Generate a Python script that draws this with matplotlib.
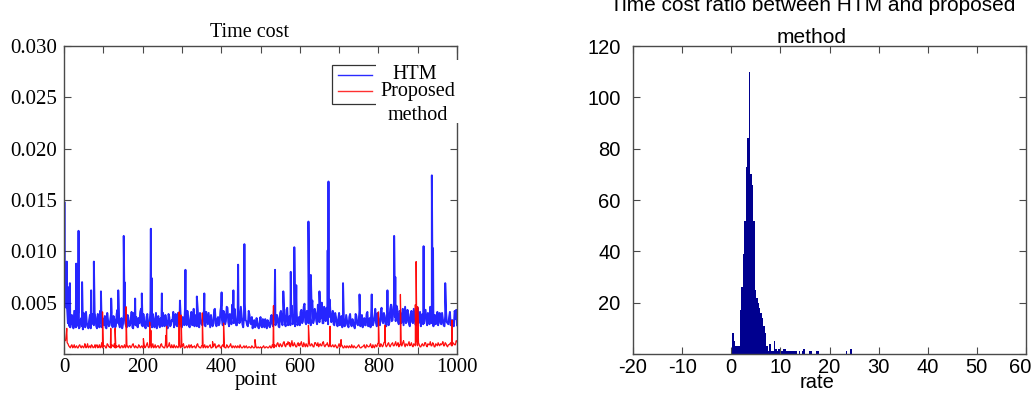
import numpy as np
import matplotlib
matplotlib.use("Agg")
import matplotlib.pyplot as plt
from matplotlib.patches import Rectangle
from matplotlib.lines import Line2D
from matplotlib.transforms import ScaledTranslation

plt.rcParams["axes.unicode_minus"] = False

# ---------------- data (time values in units of 1e-3 s) ----------------
point_step = 4      # samples at points 0, 4, 8, ...
mid_offset = 2      # samples at points 2, 6, 10, ...
htm_base = [
    4.6, 4.9, 4.4, 3.2, 2.6, 3.8, 2.5, 3.4, 2.7, 4.0,
    2.6, 3.5, 2.4, 3.1, 4.1, 2.7, 3.3, 2.5, 3.9, 2.8,
    3.6, 2.5, 3.2, 4.2, 2.6, 3.0, 3.7, 2.5, 3.3, 2.8,
    4.0, 2.6, 3.4, 2.7, 4.3, 2.9, 3.1, 2.5, 3.8, 3.0,
    2.6, 3.5, 2.8, 4.1, 2.5, 3.2, 3.6, 2.6, 3.0, 4.4,
    2.7, 3.3, 2.5, 3.9, 2.8, 4.2, 2.6, 3.4, 3.0, 2.5,
    3.7, 2.6, 3.1, 4.0, 2.7, 3.3, 2.5, 3.6, 2.8, 3.2,
    2.6, 3.9, 2.7, 3.4, 4.3, 2.6, 3.1, 4.6, 2.8, 3.5,
    2.6, 4.1, 3.0, 2.7, 3.8, 4.5, 2.6, 3.3, 2.8, 4.2,
    2.7, 3.5, 4.0, 2.6, 3.2, 2.9, 4.4, 2.7, 3.6, 3.0,
    4.7, 2.8, 3.9, 3.2, 4.5, 2.7, 3.6, 4.8, 3.0, 3.4,
    2.8, 4.4, 3.1, 3.7, 2.6, 4.9, 3.2, 2.7, 3.8, 2.9,
    2.5, 3.3, 2.7, 3.0, 2.5, 3.6, 2.6, 2.9, 3.4, 2.5,
    3.1, 2.6, 3.8, 2.7, 4.6, 3.0, 3.5, 2.6, 4.2, 2.8,
    3.9, 2.7, 4.5, 3.1, 2.8, 4.7, 3.3, 2.7, 4.1, 3.0,
    2.8, 4.3, 3.2, 4.9, 2.9, 3.6, 4.4, 2.8, 5.2, 3.3,
    4.0, 2.9, 4.6, 3.4, 5.0, 3.0, 3.8, 4.5, 2.9, 5.3,
    3.1, 4.2, 2.8, 3.6, 2.7, 4.0, 3.2, 2.6, 3.5, 2.8,
    3.3, 2.6, 3.9, 2.7, 3.1, 2.5, 3.7, 2.8, 4.3, 3.0,
    2.6, 3.5, 2.8, 4.1, 3.0, 2.6, 3.8, 3.1, 4.4, 2.7,
    3.4, 2.8, 4.5, 3.0, 3.7, 2.7, 4.2, 3.1, 4.8, 3.3,
    5.0, 3.2, 4.4, 2.9, 4.0, 3.5, 2.8, 4.6, 3.1, 3.8,
    2.7, 4.2, 3.0, 3.6, 2.8, 4.5, 3.3, 2.7, 3.9, 3.0,
    4.3, 2.8, 3.5, 4.6, 3.0, 2.7, 3.8, 3.2, 2.8, 4.0,
    2.9, 3.4, 2.7, 4.2, 3.0, 3.6, 2.8, 3.3, 2.7, 3.9,
    2.8,
]
htm_mid = [
    4.8, 4.5, 3.0, 2.7, 3.5, 2.9, 4.2, 2.6, 3.6, 2.5,
    3.3, 2.7, 4.0, 2.6, 3.0, 2.5, 3.8, 2.9, 3.2, 4.0,
    2.7, 3.9, 2.6, 3.0, 3.5, 2.8, 2.6, 4.0, 2.7, 3.4,
    2.8, 3.7, 2.6, 3.9, 3.0, 2.6, 3.5, 2.9, 4.1, 2.7,
    3.8, 2.7, 3.3, 2.6, 4.0, 2.8, 2.7, 3.5, 4.1, 2.8,
    3.9, 2.6, 3.6, 2.7, 3.2, 2.8, 3.9, 2.6, 4.0, 3.3,
    2.8, 3.5, 2.7, 2.9, 3.8, 2.6, 3.9, 2.7, 3.3, 4.1,
    3.2, 2.8, 4.0, 2.9, 2.7, 3.6, 2.8, 3.2, 4.2, 2.7,
    3.6, 2.8, 4.4, 3.1, 2.7, 3.2, 4.0, 2.9, 3.7, 2.8,
    4.1, 2.9, 3.3, 3.8, 2.7, 4.3, 3.0, 3.4, 2.8, 4.2,
    3.3, 4.2, 2.9, 4.6, 3.1, 3.9, 2.9, 3.5, 4.4, 2.8,
    4.1, 3.0, 4.6, 2.9, 3.6, 3.3, 2.8, 4.2, 3.0, 3.6,
    3.0, 2.6, 3.5, 2.6, 3.2, 2.7, 3.4, 2.6, 3.0, 3.3,
    2.7, 3.5, 2.9, 4.2, 2.8, 3.8, 2.7, 4.0, 3.1, 4.4,
    3.0, 4.3, 2.8, 3.7, 4.4, 2.9, 3.9, 4.6, 2.8, 3.6,
    4.1, 3.0, 4.6, 3.1, 4.2, 3.0, 3.5, 4.7, 3.0, 4.4,
    3.2, 4.8, 3.1, 4.3, 3.0, 4.6, 3.2, 4.1, 3.6, 4.0,
    3.6, 2.9, 4.0, 3.0, 3.4, 2.8, 3.7, 3.0, 2.7, 3.8,
    2.8, 3.6, 2.9, 3.4, 2.7, 3.9, 2.9, 3.3, 2.7, 3.8,
    3.2, 2.8, 3.9, 2.7, 3.5, 4.2, 2.8, 3.6, 3.0, 4.0,
    2.9, 4.1, 3.2, 4.0, 2.9, 3.9, 2.8, 4.4, 3.2, 4.6,
    3.6, 4.7, 3.1, 4.2, 3.0, 4.4, 3.7, 3.0, 4.3, 2.9,
    3.9, 3.1, 4.4, 2.9, 3.8, 3.0, 4.1, 3.5, 2.9, 4.3,
    3.2, 4.0, 2.9, 3.4, 4.2, 3.5, 2.9, 4.1, 3.6, 3.0,
    4.0, 2.8, 3.7, 3.1, 2.9, 4.1, 3.2, 2.8, 4.2, 3.4,
]
htm_spike_x = [1, 7, 11, 15, 31, 37, 46, 69, 76, 94, 120, 138, 152, 154, 181,
               198, 221, 223, 249, 295, 309, 338, 357, 401, 431, 443, 459, 537,
               558, 577, 586, 591, 622, 628, 650, 671, 673, 710, 752, 783, 823,
               840, 843, 915, 936, 939, 970, 998]
htm_spike_val = [14.8, 9.0, 6.5, 6.9, 8.8, 12.0, 7.0, 6.2, 9.0, 6.1, 5.4, 6.2,
                 11.5, 7.0, 5.4, 5.9, 12.2, 7.4, 5.9, 5.2, 8.2, 5.6, 5.9, 6.0,
                 6.2, 8.7, 10.7, 8.2, 6.1, 8.0, 10.4, 6.7, 12.9, 7.7, 6.1, 10.1,
                 16.8, 6.9, 5.8, 5.8, 6.2, 11.5, 7.5, 10.5, 17.4, 10.3, 6.9, 4.3]

prop_base = [
    1.4, 1.3, 1.1, 0.8, 0.6, 0.9, 0.7, 0.6, 0.8, 0.6,
    0.9, 0.6, 0.7, 0.8, 0.6, 1.0, 0.7, 0.6, 0.8, 0.7,
    0.6, 0.9, 0.7, 0.6, 1.1, 0.7, 0.8, 0.6, 0.9, 0.7,
    0.6, 0.8, 1.0, 0.6, 0.7, 0.9, 0.6, 0.8, 0.7, 0.6,
    0.9, 0.6, 0.8, 0.7, 1.0, 0.6, 0.7, 0.6, 0.8, 0.7,
    0.6, 0.9, 0.7, 1.1, 0.6, 0.8, 0.7, 0.6, 0.9, 0.7,
    0.8, 0.6, 1.0, 0.7, 0.6, 0.8, 0.7, 1.1, 0.6, 0.7,
    0.9, 0.6, 0.7, 0.8, 0.6, 0.7, 1.0, 0.6, 0.8, 0.7,
    0.6, 0.9, 0.7, 0.8, 0.6, 1.0, 0.7, 0.6, 0.8, 0.7,
    0.6, 0.8, 0.7, 0.9, 0.6, 0.7, 1.0, 0.6, 0.7, 0.8,
    0.6, 0.9, 0.7, 0.6, 0.8, 0.7, 1.0, 0.6, 0.7, 0.8,
    0.6, 0.7, 0.9, 0.6, 0.7, 0.6, 0.8, 0.6, 0.7, 0.6,
    0.7, 0.6, 0.8, 0.6, 0.6, 0.7, 0.6, 0.8, 0.6, 0.7,
    0.6, 0.8, 0.6, 0.7, 0.9, 0.7, 1.1, 0.7, 0.9, 0.8,
    1.2, 0.7, 0.9, 1.0, 0.7, 1.3, 0.8, 0.9, 0.7, 1.1,
    0.8, 1.2, 0.7, 0.9, 1.0, 0.7, 1.2, 0.8, 0.9, 0.7,
    1.1, 0.8, 0.7, 1.0, 0.8, 1.2, 0.7, 0.9, 0.8, 1.0,
    0.7, 0.9, 0.7, 0.8, 0.6, 1.0, 0.7, 0.8, 0.6, 0.7,
    0.8, 0.6, 0.7, 0.9, 0.6, 0.7, 0.6, 0.8, 0.7, 0.6,
    0.7, 0.9, 0.6, 0.8, 0.7, 1.0, 0.6, 0.7, 0.9, 0.7,
    1.1, 0.7, 0.9, 0.8, 1.2, 0.7, 1.0, 0.8, 0.9, 1.1,
    0.8, 1.2, 0.9, 0.7, 1.0, 0.8, 1.3, 0.7, 0.9, 1.0,
    0.8, 1.1, 0.7, 0.9, 1.2, 0.8, 0.9, 0.7, 1.0, 0.8,
    1.1, 0.7, 0.9, 1.2, 0.8, 1.0, 0.7, 0.9, 1.1, 0.8,
    0.9, 1.2, 0.8, 1.0, 0.7, 0.9, 1.1, 0.8, 1.0, 0.9,
    1.2,
]
prop_mid = [
    1.3, 2.0, 1.0, 0.7, 0.8, 0.6, 0.9, 0.7, 0.6, 0.8,
    0.7, 0.8, 0.6, 0.9, 0.7, 0.6, 0.8, 0.9, 0.6, 0.7,
    0.8, 0.6, 0.9, 0.7, 0.6, 0.8, 0.6, 1.0, 0.7, 0.6,
    0.9, 0.7, 0.6, 0.8, 0.7, 0.6, 0.8, 0.6, 0.9, 0.7,
    0.7, 0.8, 0.6, 0.9, 0.7, 0.8, 0.6, 0.9, 0.6, 0.8,
    0.7, 0.6, 0.9, 0.7, 0.8, 0.6, 1.0, 0.7, 0.6, 0.8,
    0.6, 0.9, 0.7, 0.6, 0.9, 0.6, 0.8, 0.7, 0.9, 0.6,
    0.7, 0.8, 0.6, 0.9, 0.7, 0.8, 0.6, 0.7, 0.6, 0.9,
    0.8, 0.6, 0.7, 0.6, 0.9, 0.7, 0.6, 0.8, 0.6, 0.9,
    0.7, 0.6, 0.8, 0.6, 0.7, 0.9, 0.6, 0.8, 0.9, 0.6,
    0.8, 0.7, 0.6, 0.9, 0.6, 0.8, 0.7, 0.8, 0.6, 0.7,
    0.8, 0.6, 0.7, 0.6, 0.8, 0.7, 0.6, 0.7, 0.6, 0.8,
    0.6, 0.7, 0.6, 0.7, 0.6, 0.6, 0.7, 0.6, 0.7, 0.6,
    0.7, 0.6, 0.9, 0.6, 0.8, 1.0, 0.8, 1.0, 0.7, 1.1,
    0.8, 1.0, 1.2, 0.8, 0.9, 0.8, 1.1, 0.7, 1.0, 0.8,
    1.0, 0.8, 1.1, 0.7, 0.8, 1.1, 0.8, 1.0, 0.7, 1.1,
    0.9, 1.1, 0.9, 0.8, 1.1, 0.8, 0.9, 1.1, 0.7, 0.8,
    0.8, 0.7, 0.9, 0.6, 0.8, 0.7, 0.9, 0.6, 0.8, 0.6,
    0.7, 0.8, 0.6, 0.7, 0.8, 0.6, 0.7, 0.9, 0.6, 0.7,
    0.8, 0.6, 0.9, 0.7, 0.8, 0.7, 0.9, 0.6, 0.8, 1.0,
    0.8, 1.0, 0.7, 1.1, 0.9, 0.8, 1.1, 0.7, 1.0, 0.8,
    1.0, 0.8, 1.1, 0.9, 0.8, 1.1, 0.9, 1.0, 0.8, 1.2,
    0.9, 0.8, 1.0, 0.8, 0.9, 1.1, 0.7, 0.9, 0.8, 1.1,
    0.8, 1.0, 0.9, 0.8, 1.1, 0.7, 1.0, 0.8, 0.9, 1.0,
    1.0, 0.8, 1.1, 0.8, 0.9, 1.0, 0.8, 1.1, 0.9, 1.3,
]
prop_spike_x = [7, 53, 79, 98, 119, 130, 158, 202, 218, 221, 259, 261, 293, 298,
                352, 378, 406, 486, 533, 574, 598, 622, 677, 705, 800, 817, 856,
                894, 896, 900, 987]
prop_spike_val = [2.5, 1.0, 0.9, 4.1, 2.5, 2.5, 4.6, 1.5, 3.1, 2.3, 1.8, 2.7,
                  4.1, 3.8, 4.0, 1.2, 3.0, 1.4, 4.7, 1.1, 1.0, 2.8, 2.7, 1.4,
                  4.1, 2.8, 5.8, 4.8, 9.0, 4.6, 3.3]

# histogram of rate (HTM / proposed)
rate_bin_start = -0.05
rate_bin_width = 0.3
rate_counts = [1, 8, 5, 3, 3, 3, 17, 26, 39, 52, 73, 84, 110, 70, 66, 52, 25,
               22, 20, 18, 16, 14, 11, 8, 3, 1, 4, 1, 1, 5, 2, 1, 2, 2, 1, 2,
               2, 1, 1, 1, 1, 1, 1, 1, 1, 0, 1, 0, 1, 2, 0, 0, 0, 1, 1, 0, 0,
               0, 1, 1, 0, 0, 0, 0, 0, 0, 0, 0, 0, 0, 0, 0, 0, 0, 0, 0, 0, 0,
               1, 0, 0, 2]

# ---------------- figure ----------------
W, H = 1035, 394
fig = plt.figure(figsize=(W / 100, H / 100), dpi=100)
spine_col = "#4a4a4a"

serif = ["Liberation Serif", "DejaVu Serif"]
sans = ["Liberation Sans", "DejaVu Sans"]


def px_axes(l, r, t, b):
    return [l / W, 1 - b / H, (r - l) / W, (b - t) / H]


# ---- left: time cost ----
ax1 = fig.add_axes(px_axes(64, 457, 46, 354))


def merged(base, mid, sx, sv):
    bx = np.arange(len(base)) * point_step
    mx = np.arange(len(mid)) * point_step + mid_offset
    x = np.concatenate([bx, mx, np.asarray(sx, float)])
    y = np.concatenate([base, mid, sv]).astype(float) * 1e-3
    o = np.argsort(x, kind="stable")
    return x[o], y[o]


hx, hy = merged(htm_base, htm_mid, htm_spike_x, htm_spike_val)
px_, py_ = merged(prop_base, prop_mid, prop_spike_x, prop_spike_val)
ax1.plot(hx, hy, color="#0000ff", lw=1.4, alpha=0.85)
ax1.plot(px_, py_, color="#ff0000", lw=0.9, alpha=0.95)

ax1.set_xlim(0, 1000)
ax1.set_ylim(0, 0.030)
ax1.set_xticks(np.arange(0, 1001, 100))
ax1.set_xticklabels([str(v) if v % 200 == 0 else "" for v in range(0, 1001, 100)])
yt = np.arange(0, 0.0301, 0.005)
ax1.set_yticks(yt)
ax1.set_yticklabels([""] + ["%.3f" % v for v in yt[1:]])
ax1.tick_params(direction="in", length=5, width=0.8, color=spine_col,
                top=True, right=True, labelsize=15, pad=5)
ax1.tick_params(axis="x", pad=3)
for lab in ax1.get_xticklabels() + ax1.get_yticklabels():
    lab.set_fontfamily(serif)
for s in ax1.spines.values():
    s.set_color(spine_col)
    s.set_linewidth(1.0)

ax1.text(0.4725, 1.030, "Time cost", transform=ax1.transAxes, ha="center",
         va="baseline", fontsize=14.5, family=serif)
ax1.text(0.49, -0.102, "point", transform=ax1.transAxes, ha="center",
         va="baseline", fontsize=15, family=serif)

# custom legend
ax1.add_patch(Rectangle((0.682, 0.812), 0.32, 0.126, transform=ax1.transAxes,
                        fill=False, edgecolor="#333333", lw=0.9, zorder=5,
                        clip_on=False))
ax1.add_patch(Rectangle((0.794, 0.75), 0.214, 0.205, transform=ax1.transAxes,
                        facecolor="white", edgecolor="none", zorder=6,
                        clip_on=False))
ax1.add_line(Line2D([0.697, 0.784], [0.907, 0.907], transform=ax1.transAxes,
                    color="#2a2aff", lw=1.0, zorder=7))
ax1.add_line(Line2D([0.697, 0.784], [0.854, 0.854], transform=ax1.transAxes,
                    color="#ff3030", lw=1.0, zorder=7))
ax1.text(0.892, 0.909, "HTM", transform=ax1.transAxes, ha="center",
         va="center", fontsize=14.5, family=serif, zorder=8)
ax1.text(0.90, 0.852, "Proposed", transform=ax1.transAxes, ha="center",
         va="center", fontsize=14.5, family=serif, zorder=8)
ax1.text(0.90, 0.773, "method", transform=ax1.transAxes, ha="center",
         va="center", fontsize=14.5, family=serif, zorder=8)

# ---- right: histogram ----
ax2 = fig.add_axes(px_axes(633, 1026, 46, 354))
edges = rate_bin_start + rate_bin_width * np.arange(len(rate_counts) + 1)
centers = 0.5 * (edges[:-1] + edges[1:])
ax2.hist(centers, bins=edges, weights=rate_counts, color="#00008f",
         edgecolor="none")
ax2.set_xlim(-20, 60)
ax2.set_ylim(0, 120)
ax2.set_xticks(np.arange(-20, 61, 10))
ax2.set_yticks(np.arange(0, 121, 20))
ax2.set_yticklabels([""] + [str(v) for v in range(20, 121, 20)])
ax2.tick_params(direction="in", length=5, width=0.8, color=spine_col,
                top=True, right=True, labelsize=14.5, pad=3)
ax2.tick_params(axis="y", pad=9)
for lab in ax2.get_xticklabels() + ax2.get_yticklabels():
    lab.set_fontfamily(sans)
last = ax2.get_xticklabels()[-1]
last.set_transform(last.get_transform() + ScaledTranslation(-4 / 72, 0, fig.dpi_scale_trans))
for s in ax2.spines.values():
    s.set_color(spine_col)
    s.set_linewidth(1.0)

ax2.text(0.458, 1.114, "Time cost ratio between HTM and proposed",
         transform=ax2.transAxes, ha="center", va="baseline", fontsize=15,
         family=sans, clip_on=False)
ax2.text(0.455, 1.0097, "method", transform=ax2.transAxes, ha="center",
         va="baseline", fontsize=15, family=sans)
ax2.text(0.469, -0.112, "rate", transform=ax2.transAxes, ha="center",
         va="baseline", fontsize=14.5, family=sans)

fig.savefig("out.png", dpi=100)
